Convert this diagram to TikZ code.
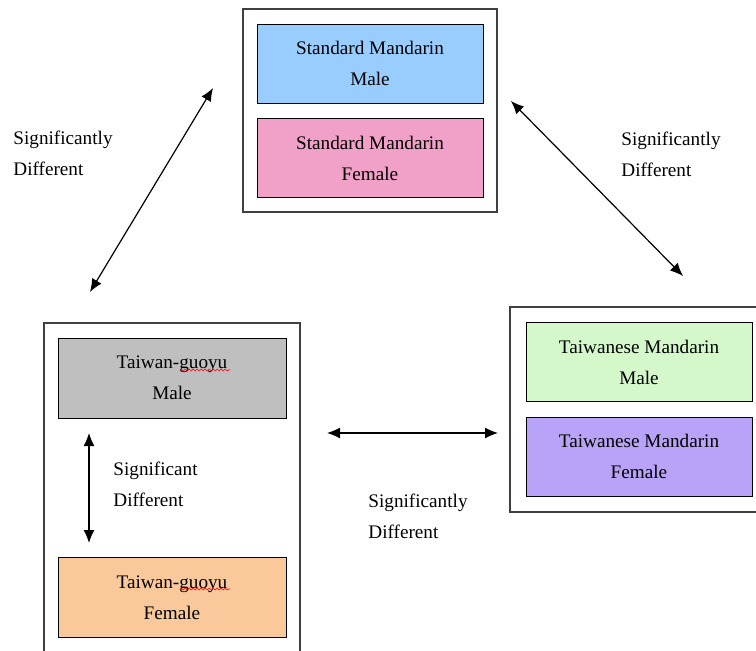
\documentclass[tikz,border=0pt]{standalone}
\usepackage{fontspec}
\setmainfont{Liberation Serif}
\usetikzlibrary{arrows.meta,decorations.pathmorphing}

\definecolor{smblue}{RGB}{153,204,255}
\definecolor{smpink}{RGB}{241,160,200}
\definecolor{tggrey}{RGB}{191,191,191}
\definecolor{tgorange}{RGB}{249,200,155}
\definecolor{twgreen}{RGB}{212,248,202}
\definecolor{twpurple}{RGB}{185,163,248}

\tikzset{
  frame/.style={draw=black!75, line width=0.6pt},
  grp/.style={draw, fill=#1, line width=0.5pt, minimum width=113pt, minimum height=39.5pt,
    inner sep=0pt, align=center, font=\fontsize{9.6}{15.5}\selectfont},
  lbl/.style={anchor=north west, align=left, inner sep=0pt, font=\fontsize{9.6}{15.5}\selectfont},
  sig/.style={{Latex[length=6.5pt,width=5.5pt]}-{Latex[length=6.5pt,width=5.5pt]}, line width=0.6pt},
  squig/.style={red, line width=0.3pt, decorate, decoration={snake, amplitude=0.5pt, segment length=2pt}}
}

\begin{document}
\begin{tikzpicture}[x=0.5pt,y=-0.5pt]
\useasboundingbox (0,0) rectangle (756,650);

%standard mandarin
\draw [frame] (243,9) rectangle (497,212);
\node [grp=smblue] (smm) at (370,63.5) {Standard Mandarin\\Male};
\node [grp=smpink] (smf) at (370,158) {Standard Mandarin\\Female};

%taiwan-guoyu
\draw [frame] (44,652) |- (300,323) -- (300,652);
\node [grp=tggrey, minimum width=114pt, minimum height=40pt] (tgm) at (172,378) {Taiwan-guoyu\\Male};
\node [grp=tgorange, minimum width=114pt, minimum height=40pt] (tgf) at (172,597.5) {Taiwan-guoyu\\Female};
\draw [squig] (180,370) -- (230,370);
\draw [squig] (180,589) -- (230,589);

%taiwanese mandarin
\draw [frame] (758,307) -| (510,512) -- (758,512);
\node [grp=twgreen] (twm) at (639,362) {Taiwanese Mandarin\\Male};
\node [grp=twpurple] (twf) at (639,456.5) {Taiwanese Mandarin\\Female};

%puscice
\coordinate (a1) at (213,88);
\coordinate (a2) at (90,292);
\coordinate (b1) at (511,101);
\coordinate (b2) at (683,276);
\coordinate (c1) at (327,433);
\coordinate (c2) at (498,433);
\coordinate (d1) at (89,433);
\coordinate (d2) at (89,543);
\draw [sig] (a1) -- (a2);
\draw [sig] (b1) -- (b2);
\draw [sig] (c1) -- (c2);
\draw [sig] (d1) -- (d2);

%oznake
\node [lbl] (lab1) at (13,131) {Significantly\\Different};
\node [lbl] (lab2) at (621,132) {Significantly\\Different};
\node [lbl] (lab3) at (368,494) {Significantly\\Different};
\node [lbl] (lab4) at (113,462) {Significant\\Different};

\end{tikzpicture}
\end{document}
